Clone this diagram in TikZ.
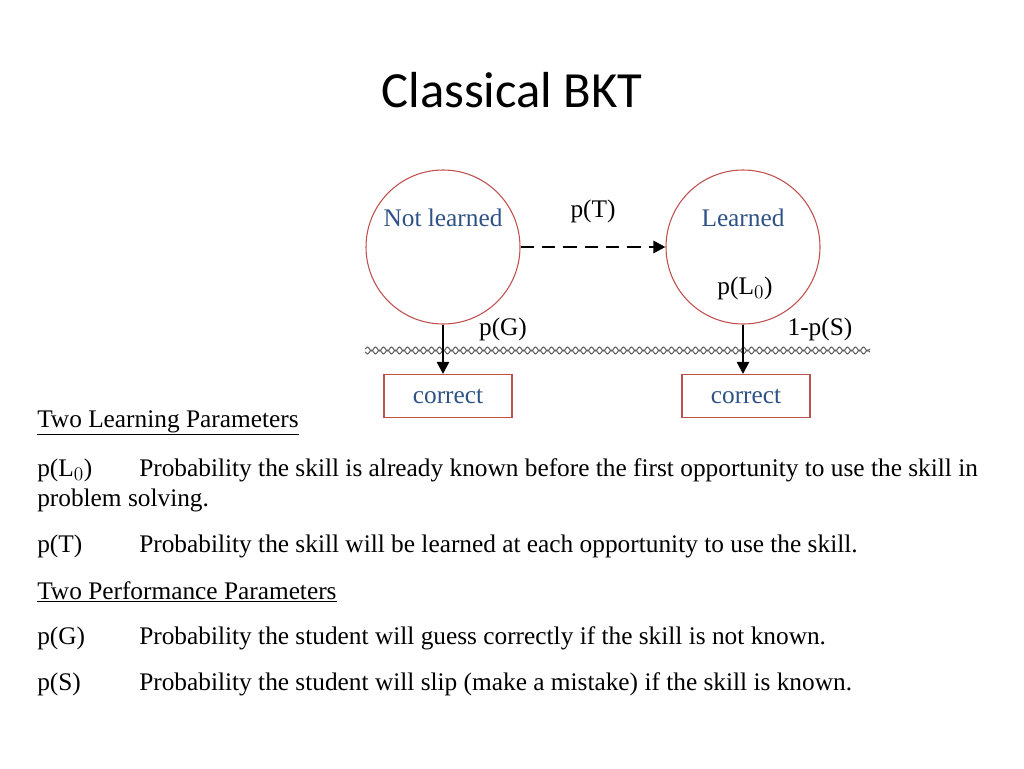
\documentclass[tikz,border=0pt]{standalone}
\usepackage{fontspec}
\setmainfont{Liberation Serif}
\newfontfamily\titlefont{Carlito}
\usetikzlibrary{positioning,decorations.pathmorphing,arrows.meta}
\tikzset{>=stealth}
\definecolor{stateblue}{HTML}{2E5286}
\definecolor{statered}{HTML}{C0504D}
\tikzset{
  state/.style={circle,draw=statered,thick,minimum size=154*0.75pt,inner sep=0pt},
  obsbox/.style={draw=statered,thick,minimum width=128*0.75pt,minimum height=43*0.75pt,text=stateblue,font=\fontsize{19}{23}\selectfont},
  lbl/.style={font=\fontsize{19}{23}\selectfont},
  txt/.style={font=\fontsize{19}{23}\selectfont,anchor=west,inner sep=0pt},
  flow/.style={line width=2pt,-{Triangle[length=9pt,width=9pt]}},
  rope/.style={gray!80!black,thick,decorate,decoration={snake,amplitude=1.5pt,segment length=6pt}}
}
\begin{document}
\begin{tikzpicture}[x=0.75pt,y=-0.75pt]
\useasboundingbox (0,0) rectangle (1024,768);
\node[font=\titlefont\fontsize{38}{45}\selectfont] (title) at (512,90) {Classical BKT};

\node[state] (nl) at (443,247) {};
\node[state] (le) at (743,247) {};
\node[lbl,text=stateblue] (nltext) at (443,218) {Not learned};
\node[lbl,text=stateblue] (letext) at (743,218) {Learned};
\node[lbl] (pl0) at (745,288) {p(L$_0$)};
\draw[flow,dash pattern=on 10pt off 6pt] (nl) -- (le) node[midway,above=14pt,lbl] (pt) {p(T)};

% rope
\draw[rope] (365,349) -- (870,349);
\draw[rope,decoration={mirror}] (365,352) -- (870,352);

\node[obsbox] (c1) at (448,396) {correct};
\node[obsbox] (c2) at (746,396) {correct};
\draw[flow] (nl.south) -- (nl.south |- c1.north);
\draw[flow] (le.south) -- (le.south |- c2.north);
\node[lbl] (pg) at (503,329) {p(G)};
\node[lbl] (ps) at (820,329) {1-p(S)};

\node[txt] (h1) at (37,423) {\underline{Two Learning Parameters}};
\node[txt] (a1) at (37,470) {p(L$_0$)};
\node[txt] (b1) at (139,470) {Probability the skill is already known before the first opportunity to use the skill in};
\node[txt] (b1b) at (37,500) {problem solving.};
\node[txt] (a2) at (37,546) {p(T)};
\node[txt] (b2) at (139,546) {Probability the skill will be learned at each opportunity to use the skill.};
\node[txt] (h2) at (37,592) {\underline{Two Performance Parameters}};
\node[txt] (a3) at (37,638) {p(G)};
\node[txt] (b3) at (139,638) {Probability the student will guess correctly if the skill is not known.};
\node[txt] (a4) at (37,684) {p(S)};
\node[txt] (b4) at (139,684) {Probability the student will slip (make a mistake) if the skill is known.};
\end{tikzpicture}
\end{document}
